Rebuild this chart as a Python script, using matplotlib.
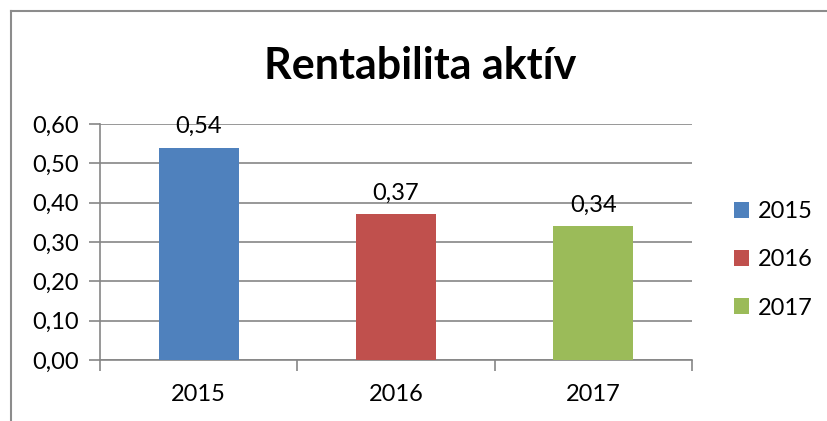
import matplotlib.pyplot as plt
from matplotlib.lines import Line2D
from matplotlib.ticker import FuncFormatter

plt.rcParams["font.family"] = ["Lato", "DejaVu Sans"]

years = ["2015", "2016", "2017"]
values = [0.54, 0.37, 0.34]
colors = ["#4F81BD", "#C0504D", "#9BBB59"]
yticks = [0.0, 0.1, 0.2, 0.3, 0.4, 0.5, 0.6]

fs = 17

fig = plt.figure(figsize=(8.27, 4.21), dpi=100)
# plot area box: x 100..692, y 124..360 px
ax = fig.add_axes([100 / 827, (421 - 360) / 421, 592 / 827, 236 / 421])

pos = range(len(years))
bars = []
for i, (yr, v, c) in enumerate(zip(years, values, colors)):
    b = ax.bar(i, v, width=0.405, color=c, label=yr, zorder=3)
    bars.append(b)
    ax.text(i, v + 0.027, f"{v:.2f}".replace(".", ","), ha="center", va="bottom",
            fontsize=fs, zorder=4)

ax.set_xlim(-0.5, 2.5)
ax.set_ylim(0, 0.6)
ax.set_yticks(yticks)
ax.yaxis.set_major_formatter(FuncFormatter(lambda v, p: f"{v:.2f}".replace(".", ",")))
ax.set_xticks(list(pos))
ax.set_xticklabels(years)
ax.set_xticks([-0.5, 0.5, 1.5, 2.5], minor=True)
ax.tick_params(axis="x", which="major", length=0, pad=17, labelsize=fs)
ax.tick_params(axis="x", which="minor", length=8, color="#868686", width=1.2)
ax.tick_params(axis="y", length=8, color="#868686", width=1.2, pad=7, labelsize=fs)
ax.grid(axis="y", color="#868686", linewidth=1.2, zorder=0)

for s in ["top", "right"]:
    ax.spines[s].set_visible(False)
for s in ["left", "bottom"]:
    ax.spines[s].set_color("#868686")
    ax.spines[s].set_linewidth(1.2)

fig.text(420 / 827, 1 - 66 / 421, "Rentabilita aktív", ha="center", va="center",
         fontsize=31, fontweight="bold")

fig.legend(handles=[b[0] for b in bars], labels=years, loc="center left",
           bbox_to_anchor=(734 / 827, 1 - 260 / 421), frameon=False,
           fontsize=fs, handlelength=0.65, handleheight=0.65, handletextpad=0.35,
           labelspacing=1.15, borderpad=0, borderaxespad=0)

# chart area frame (top and left edges visible)
fig.add_artist(Line2D([11 / 827, 1], [1 - 11 / 421, 1 - 11 / 421], color="#8c8c8c", lw=1.5))
fig.add_artist(Line2D([11 / 827, 11 / 827], [0, 1 - 11 / 421], color="#8c8c8c", lw=1.5))

fig.savefig("out.png", dpi=100)
